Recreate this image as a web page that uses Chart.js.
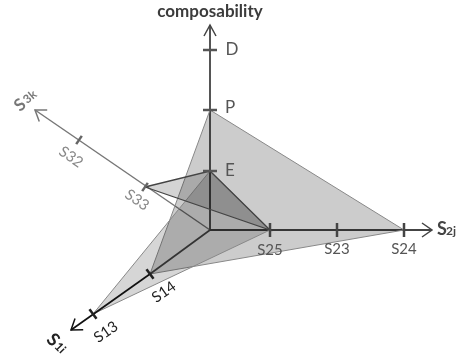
<!DOCTYPE html>
<html lang="en">
  <head>
    <meta charset="UTF-8" />
    <title>composability</title>
    <style>
      html, body { margin: 0; padding: 0; background: #fff; }
      canvas { display: block; }
    </style>
  </head>
  <body>
    <canvas id="chart" width="458" height="354"></canvas>
    <script src="https://cdn.jsdelivr.net/npm/chart.js"></script>
    <script>
      // all values, origin of the three axes = 0,0
      const compTicks = [{ x: 0, y: 59 }, { x: 0, y: 120 }, { x: 0, y: 180 }]; // E P D
      const s2Ticks = [{ x: 60, y: 0 }, { x: 127, y: 0 }, { x: 194, y: 0 }]; // S25 S23 S24
      const s1Ticks = [{ x: -60, y: -44 }, { x: -117, y: -84 }]; // S14 S13
      const s3Ticks = [{ x: -65, y: 43 }, { x: -131, y: 90 }]; // S33 S32

      const compEnd = { x: 0, y: 205 };
      const s2End = { x: 222, y: 0 };
      const s1End = { x: -139, y: -100 };
      const s3End = { x: -175, y: 120 };
      const origin = { x: 0, y: 0 };

      const E = compTicks[0], P = compTicks[1];
      const S25 = s2Ticks[0], S24 = s2Ticks[2];
      const S14 = s1Ticks[0], S13 = s1Ticks[1];
      const S33 = s3Ticks[0];

      const shapeA = [P, S24, S14, P];
      const shapeB = [E, S25, S13, E];
      const shapeC = [S33, E, S25, S33];

      const tickLabels = ["E", "P", "D", "S25", "S23", "S24", "S14", "S13", "S33", "S32"];
      const tickLabelX = [20, 20, 22, 60, 127, 194, -46, -104, -73, -139];
      const tickLabelY = [59, 122, 180, -20, -19, -19, -62, -102, 30, 73];
      const tickLabelAngle = [0, 0, 0, 0, 0, 0, -35, -35, 35, 35];
      const tickLabelColor = ["#555", "#555", "#555", "#555", "#555", "#555", "#222", "#222", "#888", "#888"];

      function arrow(tip, back, wing) {
        // open arrow head, back/wing in chart units along and across the axis
        const len = Math.hypot(tip.x, tip.y);
        const ux = tip.x / len, uy = tip.y / len;
        return [
          { x: tip.x - ux * back - uy * wing, y: tip.y - uy * back + ux * wing },
          tip,
          { x: tip.x - ux * back + uy * wing, y: tip.y - uy * back - ux * wing },
        ];
      }

      function line(data, color, width) {
        return { data, borderColor: color, borderWidth: width, showLine: true, pointRadius: 0, fill: false };
      }

      function shape(data, fillColor, color, width) {
        return { data, backgroundColor: fillColor, borderColor: color, borderWidth: width, showLine: true, pointRadius: 0, fill: "shape" };
      }

      function ticks(data, color, width, radius, rotation) {
        return {
          data, showLine: false, pointStyle: "line", pointRadius: radius, pointRotation: rotation,
          pointBorderColor: color, pointBorderWidth: width, pointBackgroundColor: color,
        };
      }

      // listed in paint order, bottom first
      const layers = [
        line([origin, s3End], "#777", 1.5),
        line(arrow(s3End, 10, 7), "#777", 1.5),
        line([origin, compEnd], "#555", 2),
        line(arrow(compEnd, 11, 6), "#444", 1.5),
        line([origin, s2End], "#444", 2),
        line(arrow(s2End, 10, 7), "#444", 1.5),
        shape(shapeA, "rgba(0,0,0,0.2)", "#888", 1),
        shape(shapeB, "rgba(0,0,0,0.16)", "#888", 1),
        shape(shapeC, "rgba(0,0,0,0.17)", "#444", 1.3),
        line([origin, S14], "#333", 1.7),
        line([S14, s1End], "#111", 1.7),
        line(arrow(s1End, 10, 7), "#111", 1.5),
        ticks(compTicks, "#555", 2.5, 7, 0),
        ticks(s2Ticks, "#444", 2.5, 7, 90),
        ticks(s1Ticks, "#222", 2.5, 6, 54),
        ticks(s3Ticks, "#666", 2.5, 5, -56),
      ];

      const textPlugin = {
        id: "texts",
        afterDatasetsDraw(chart) {
          const { ctx, scales } = chart;
          const put = (text, x, y, font, color, angle) => {
            ctx.save();
            ctx.translate(scales.x.getPixelForValue(x), scales.y.getPixelForValue(y));
            ctx.rotate((angle * Math.PI) / 180);
            ctx.font = font;
            ctx.fillStyle = color;
            ctx.textAlign = "center";
            ctx.textBaseline = "middle";
            ctx.fillText(text, 0, 0);
            ctx.restore();
          };
          tickLabels.forEach((t, i) => {
            const big = i < 3;
            put(t, tickLabelX[i], tickLabelY[i], (big ? "17px" : "15px") + " Lato", tickLabelColor[i], tickLabelAngle[i]);
          });
          put("composability", 0, 218, "bold 17px Lato", "#3c3c3c", 0);
          put("S", 232, 1, "bold 18px Lato", "#444", 0);
          put("2j", 241, -1, "bold 12px Lato", "#444", 0);
          put("S", -157, -110, "bold 18px Lato", "#222", 45);
          put("1i", -150, -118, "bold 12px Lato", "#222", 45);
          put("S", -190, 125, "bold 17px Lato", "#777", -40);
          put("3k", -180, 133, "bold 12px Lato", "#777", -40);
        },
      };

      // the largest tick mark makes Chart.js inset the plot by 9.5px on each side,
      // so the axis ranges are trimmed to keep one unit equal to one pixel
      new Chart(document.getElementById("chart"), {
        type: "scatter",
        data: { datasets: layers.map((d, i) => ({ ...d, order: layers.length - i })) },
        options: {
          responsive: false,
          animation: false,
          layout: { padding: 0 },
          elements: { line: { tension: 0 } },
          plugins: { legend: { display: false }, tooltip: { enabled: false } },
          scales: {
            x: { type: "linear", display: false, min: -200.5, max: 238.5 },
            y: { type: "linear", display: false, min: -114.5, max: 220.5 },
          },
        },
        plugins: [textPlugin],
      });
    </script>
  </body>
</html>
